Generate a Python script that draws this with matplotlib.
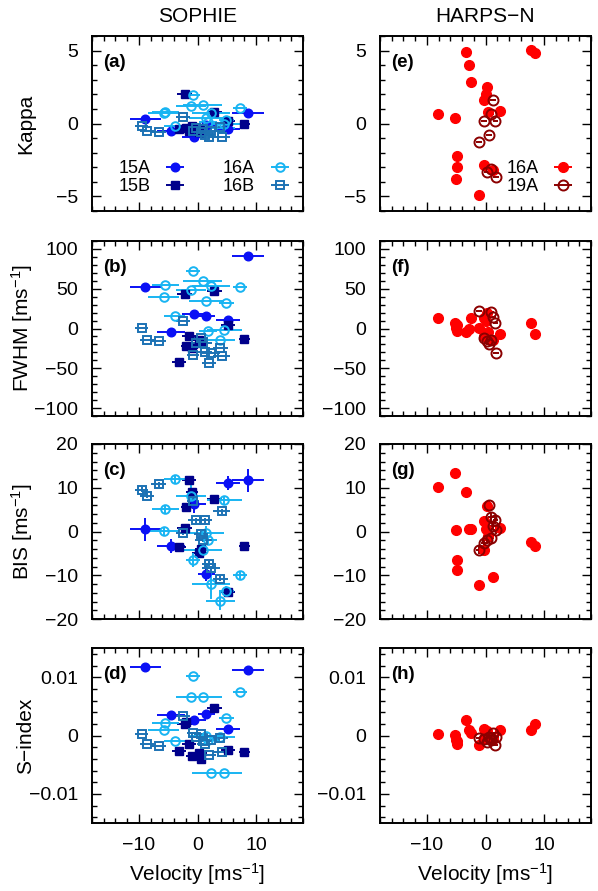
import matplotlib
matplotlib.use("Agg")
import matplotlib.pyplot as plt
from matplotlib.ticker import MultipleLocator, FuncFormatter

plt.rcParams['font.family'] = ['Liberation Sans', 'DejaVu Sans']
plt.rcParams['mathtext.default'] = 'regular'
plt.rcParams['axes.linewidth'] = 1.4

# ---------------- SOPHIE data ----------------
s15a_v = [-8.9, -4.5, -0.6, 1.5, 5.2, 8.6]
s15a_verr = [2.7, 2.4, 2.1, 1.5, 2.0, 2.7]
s15a_kappa = [0.33, -0.53, -0.94, -0.1, -0.4, 0.71]
s15a_fwhm = [52.5, -5, 18, 16, 11, 91]
s15a_bis = [0.5, -3.3, 6.3, -9.6, 11.2, 11.7]
s15a_bis_err = [2.7, 1.5, 2.0, 1.8, 1.6, 2.7]
s15a_sindex = [0.0118, 0.0035, 0.0026, 0.0037, 0.0012, 0.0113]

s15b_v = [-3.1, -2.2, -1.9, -1.4, -1.0, 0.3, 0.6, 2.9, 5.2, 8.0]
s15b_verr = [1.2, 1.3, 1.0, 1.2, 1.0, 1.3, 1.0, 1.2, 1.2, 1.0]
s15b_kappa = [-0.4, 2.0, -0.3, -0.5, -0.2, -0.6, -0.3, 0.8, 0.2, 0.0]
s15b_fwhm = [-42, 44, -22, -10, -25, -14, -18, 47, 5, -13]
s15b_bis = [-3.5, 0.9, 5.5, 11.7, 9.0, -4.9, -4.0, 7.4, -13.9, -3.4]
s15b_bis_err = [0.8, 0.8, 0.8, 0.8, 0.8, 0.8, 0.8, 0.8, 0.8, 0.8]
s15b_sindex = [-0.0027, 0.0020, 0.0024, -0.0015, -0.0035, -0.0030, -0.0041, 0.0047, -0.0024, -0.0028]

s16a_v = [-5.8, -5.5, -3.9, -1.1, -0.7, 0.9, 1.5, 1.8, 2.3, 3.9, 4.6, 4.9, 7.3]
s16a_verr = [2.6, 2.3, 1.8, 2.5, 1.2, 3.3, 3.0, 1.5, 3.3, 2.5, 3.0, 1.3, 1.2]
s16a_kappa = [0.71, 0.8, -0.14, 1.2, 1.93, 1.3, 0.4, 0.1, 0.7, -0.3, 0.0, 0.25, 1.08]
s16a_fwhm = [40, 55, 16, 48, 72, 60, 34, -3, 54, -15, -2, 32, 52.5]
s16a_bis = [0.1, 5.1, 11.9, 8.2, -6.5, -4.3, -0.3, -2.0, -11.9, -15.8, 7.2, -13.5, -10.0]
s16a_bis_err = [1.0, 0.8, 0.8, 2.5, 1.5, 1.5, 1.5, 1.0, 3.5, 2.1, 1.0, 1.0, 0.8]
s16a_sindex = [0.0010, 0.0022, -0.0010, 0.0066, 0.0102, 0.0066, 0.0000, -0.0008, -0.0064, -0.0002, -0.0064, 0.0030, 0.0075]

s16b_v = [-9.5, -8.6, -6.6, -2.5, -0.8, -0.2, 0.6, 1.0, 1.2, 1.9, 2.3, 3.9, 4.1]
s16b_verr = [1.1, 1.2, 1.3, 1.2, 1.0, 1.5, 1.2, 1.5, 1.3, 1.2, 1.5, 1.3, 1.5]
s16b_kappa = [-0.14, -0.48, -0.55, 0.43, -0.5, -0.3, -0.6, -0.4, -0.76, -0.9, -0.5, -0.25, -0.94]
s16b_fwhm = [1, -15, -16, 10, -33, -18, -12, -18, -29, -43, -31, -25, -35]
s16b_bis = [9.6, 8.2, 10.8, -0.3, 7.0, 2.6, -0.5, -1.9, 2.6, -7.4, -8.4, -10.8, 4.6]
s16b_bis_err = [0.6, 0.6, 0.6, 0.6, 0.6, 0.6, 0.6, 0.6, 0.6, 0.6, 0.6, 0.6, 0.6]
s16b_sindex = [0.0002, -0.0014, -0.0018, 0.0034, 0.0005, -0.0002, 0.0003, -0.0010, -0.0015, -0.0033, -0.0008, -0.0004, -0.0028]

# ---------------- HARPS-N data ----------------
h16a_v = [-8.1, -5.2, -5.0, -4.8, -4.9, -3.4, -2.8, -2.4, -1.1, -0.2, 0.2, 0.1, -0.2, 0.5, 2.4, 1.2, 7.8, 8.5]
h16a_verr = [0.4] * 18
h16a_kappa = [0.62, 0.39, -3.8, -2.2, -2.97, 4.92, 4.0, 2.85, -4.9, 1.6, 2.5, 2.05, -2.83, 0.78, 0.85, -3.2, 5.03, 4.85]
h16a_fwhm = [13.8, 7.5, 0.4, -3, 5, -4.6, -0.4, 13.8, 1.2, 13, 19, 9, -10, -4, -7, -15, 7.5, -7]
h16a_bis = [10.2, 13.4, 0.3, -6.4, -8.8, 9.1, 0.6, 0.6, -12.3, 2.4, 5.9, 0.5, -4.2, -1.0, 0.9, -10.4, -2.3, -3.3]
h16a_bis_err = [0.5] * 18
h16a_sindex = [0.0002, 0.00005, -0.0007, -0.0014, -0.0010, 0.0026, 0.0010, 0.0005, -0.0016, 0.0012,
               0.0008, 0.0005, -0.0005, -0.0003, 0.0009, -0.0006, 0.0010, 0.0019]

h19a_v = [-1.1, -0.2, 0.3, 0.6, 0.9, 1.0, 1.3, 1.7, 1.8]
h19a_verr = [0.5] * 9
h19a_kappa = [-1.29, 0.2, -3.3, -0.76, -3.1, 0.67, 1.6, 0.16, -3.66]
h19a_fwhm = [22, -12, -16, -20, -14, 21, 15, 6.7, -31]
h19a_bis = [-4.2, -2.6, -1.9, 6.0, 3.4, -1.5, 1.2, 2.6, 0.3]
h19a_bis_err = [0.9] * 9
h19a_sindex = [-0.0004, -0.0006, -0.0011, -0.0003, -0.0008, -0.0005, 0.0005, -0.0016, -0.0002]

col_titles = ['SOPHIE', 'HARPS\u2212N']
row_labels = ['Kappa', 'FWHM [ms$^{-1}$]', 'BIS [ms$^{-1}$]', 'S\u2212index']
panel_letters = [['(a)', '(b)', '(c)', '(d)'], ['(e)', '(f)', '(g)', '(h)']]
ylims = [(-6, 6), (-110, 110), (-20, 20), (-0.015, 0.015)]
ymajor = [5, 50, 10, 0.01]
yminor = [1, 10, 2, 0.002]

C15A = '#0a10f5'
C15B = '#00008b'
C16A = '#18b4f2'
C16B = '#1c72b4'
CRED = '#ff0000'
CDRED = '#8b0000'

W, H = 598, 891
fig = plt.figure(figsize=(W / 100, H / 100), dpi=100)

col_x = [92, 380]
col_w = [211, 211]
row_top = [36, 241, 444, 648]
row_h = 175


def fmt(val, pos):
    if abs(val) < 1e-12:
        return '0'
    s = '%g' % val
    return s.replace('-', '\u2212')


sophie = [
    ('15A', s15a_v, s15a_verr, [s15a_kappa, s15a_fwhm, s15a_bis, s15a_sindex], s15a_bis_err, C15A, 'o', True, 6.2),
    ('15B', s15b_v, s15b_verr, [s15b_kappa, s15b_fwhm, s15b_bis, s15b_sindex], s15b_bis_err, C15B, 's', True, 5.8),
    ('16A', s16a_v, s16a_verr, [s16a_kappa, s16a_fwhm, s16a_bis, s16a_sindex], s16a_bis_err, C16A, 'o', False, 6.2),
    ('16B', s16b_v, s16b_verr, [s16b_kappa, s16b_fwhm, s16b_bis, s16b_sindex], s16b_bis_err, C16B, 's', False, 5.6),
]
harps = [
    ('16A', h16a_v, h16a_verr, [h16a_kappa, h16a_fwhm, h16a_bis, h16a_sindex], h16a_bis_err, CRED, 'o', True, 7.0),
    ('19A', h19a_v, h19a_verr, [h19a_kappa, h19a_fwhm, h19a_bis, h19a_sindex], h19a_bis_err, CDRED, 'o', False, 7.2),
]

for c, groups in enumerate([sophie, harps]):
    for r in range(4):
        left = col_x[c] / W
        bottom = 1 - (row_top[r] + row_h) / H
        ax = fig.add_axes([left, bottom, col_w[c] / W, row_h / H])
        handles = []
        for (name, v, verr, vals, bis_err, color, mk, filled, ms) in groups:
            yerr = bis_err if r == 2 else None
            eb = ax.errorbar(v, vals[r], xerr=verr, yerr=yerr, fmt=mk, color=color,
                             ecolor=color, elinewidth=1.4, capsize=0, ms=ms,
                             mfc=color if filled else 'none', mec=color,
                             mew=1.0 if filled else 1.4, label=name)
            handles.append(eb)
        ax.set_xlim(-18, 18)
        ax.set_ylim(*ylims[r])
        ax.xaxis.set_major_locator(MultipleLocator(10))
        ax.xaxis.set_minor_locator(MultipleLocator(2))
        ax.yaxis.set_major_locator(MultipleLocator(ymajor[r]))
        ax.yaxis.set_minor_locator(MultipleLocator(yminor[r]))
        ax.yaxis.set_major_formatter(FuncFormatter(fmt))
        ax.xaxis.set_major_formatter(FuncFormatter(fmt))
        ax.tick_params(which='both', direction='in', top=True, right=True, width=1.0)
        ax.tick_params(which='major', length=6.5, labelsize=14, pad=10)
        ax.tick_params(which='minor', length=3.5)
        if r < 3:
            ax.tick_params(labelbottom=False)
        else:
            ax.set_xlabel('Velocity [ms$^{-1}$]', fontsize=15, labelpad=5)
        if r == 0:
            ax.set_title(col_titles[c], fontsize=15, pad=10)
        if c == 0:
            ax.set_ylabel(row_labels[r], fontsize=15)
            ax.yaxis.set_label_coords(-0.27, 0.5)
        ax.text(0.055, 0.85, panel_letters[c][r], transform=ax.transAxes,
                fontsize=13.5, fontweight='bold', va='center', ha='left')
        if r == 0:
            if c == 0:
                ax.legend(handles=handles, ncol=2, loc='lower center',
                          bbox_to_anchor=(0.54, 0.02), frameon=False, markerfirst=False,
                          fontsize=13, handlelength=1.5, handletextpad=0.6,
                          columnspacing=1.9, labelspacing=0.05, borderpad=0.2)
            else:
                ax.legend(handles=handles, ncol=1, loc='lower right',
                          bbox_to_anchor=(0.99, 0.02), frameon=False, markerfirst=False,
                          fontsize=13, handlelength=1.5, handletextpad=0.6,
                          labelspacing=0.05, borderpad=0.2)

fig.savefig('out.png', dpi=100)
